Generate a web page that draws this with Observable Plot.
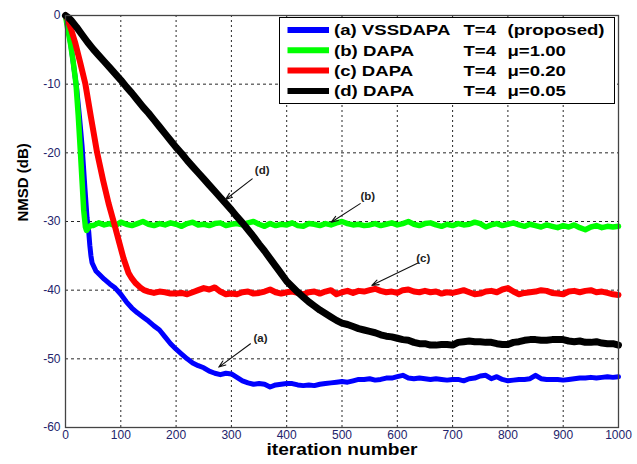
<!DOCTYPE html>
<html><head><meta charset="utf-8">
<script src="https://cdn.jsdelivr.net/npm/d3@7"></script>
<script src="https://cdn.jsdelivr.net/npm/@observablehq/plot@0.6"></script>
<style>
html,body{margin:0;padding:0;background:#fff;}
#chart{position:relative;width:637px;height:464px;}
</style></head><body><div id="chart"></div>
<script>
// ---------- data ----------
const xTicks = [0,100,200,300,400,500,600,700,800,900,1000];
const yTicks = [-60,-50,-40,-30,-20,-10,0];
const tailIter = d3.range(150, 1001, 10); // sample positions of the steady part

// (a) VSSDAPA
const aHeadIter = [0,5,10,15,20,25,30,35,39,42,44,46,48,55,60,70,80,90,100,110,120,130,140];
const aHeadNmsd = [0,-2,-4.5,-7.5,-10.5,-14.5,-19,-25,-29.5,-31.5,-33.5,-35,-36,-37.2,-37.6,-38.4,-39.1,-39.7,-40.6,-41.7,-42.6,-43.3,-43.9];
const aTailNmsd = [
 -44.5,-45.2,-45.8,-46.8,-47.8,-48.6,-49.3,-50.0,-50.6,-51.0,
 -51.3,-51.8,-52.1,-52.3,-52.1,-52.2,-52.7,-53.2,-53.5,-53.7,
 -53.6,-53.7,-54.1,-53.8,-53.7,-53.6,-53.6,-53.8,-53.9,-53.8,
 -53.9,-53.7,-53.6,-53.5,-53.4,-53.3,-53.4,-53.2,-53.0,-53.0,
 -52.9,-53.1,-53.0,-52.8,-52.8,-52.6,-52.4,-52.8,-52.9,-52.8,
 -52.9,-53.0,-52.9,-53.0,-53.1,-53.0,-53.0,-53.2,-52.9,-52.8,
 -52.5,-52.4,-52.9,-52.6,-53.0,-53.2,-53.1,-53.0,-53.0,-52.9,
 -52.4,-52.9,-53.0,-53.0,-53.0,-53.1,-53.0,-52.9,-52.8,-52.8,
 -52.7,-52.8,-52.7,-52.6,-52.7,-52.6];

// (b) DAPA mu=1.00
const bHeadIter = [0,3,9,14,19,23,27,30,33,36,38,41,45,50,60,70,80,90,100,110,120,130,140];
const bHeadNmsd = [0,-1.5,-4.1,-6.8,-10,-14.5,-19.9,-24.2,-28.4,-30.8,-31.3,-31.0,-30.6,-30.6,-30.2,-30.5,-30.3,-30.6,-30.1,-30.4,-30.6,-30.3,-30.0];
const bTailNmsd = [
 -30.4,-30.6,-30.3,-30.5,-30.2,-30.4,-30.7,-30.3,-30.1,-30.5,
 -30.4,-30.6,-30.3,-30.2,-30.6,-30.4,-30.3,-30.5,-30.2,-30.0,
 -30.4,-30.7,-30.3,-30.6,-30.4,-30.5,-30.2,-30.6,-30.7,-30.3,
 -30.4,-30.6,-30.3,-30.5,-30.2,-30.0,-30.3,-30.5,-30.4,-30.6,
 -30.5,-30.3,-30.6,-30.4,-30.2,-30.5,-30.3,-30.0,-30.4,-30.6,
 -30.3,-30.2,-30.5,-30.7,-30.4,-30.6,-30.3,-30.5,-30.4,-30.1,
 -30.3,-30.8,-30.5,-30.3,-30.6,-30.4,-30.2,-30.5,-30.7,-30.4,
 -30.6,-30.8,-30.5,-30.7,-30.9,-30.6,-30.8,-30.5,-30.9,-31.2,
 -30.8,-30.6,-30.9,-30.7,-30.8,-30.7];

// (c) DAPA mu=0.20
const cHeadIter = [0,5,10,18,27,36,46,57,68,78,88,97,105,114,120,127,135,142];
const cHeadNmsd = [0,-0.8,-2,-4.1,-7,-10,-14.8,-19.9,-24,-27.4,-30.3,-33,-35.4,-37.5,-38.3,-39,-39.6,-40];
const cTailNmsd = [
 -40.2,-40.4,-40.2,-40.3,-40.5,-40.5,-40.4,-40.6,-40.3,-40.0,
 -39.7,-39.9,-39.6,-40.2,-40.6,-40.5,-40.6,-40.3,-40.2,-40.5,
 -40.4,-40.2,-39.9,-40.3,-40.5,-40.3,-40.2,-40.4,-40.6,-40.3,
 -40.2,-40.5,-40.2,-40.0,-40.6,-40.3,-40.1,-40.4,-40.1,-40.2,
 -40.0,-39.8,-40.1,-40.3,-40.2,-40.4,-40.0,-39.9,-40.2,-40.3,
 -40.1,-40.3,-40.2,-40.5,-40.3,-40.4,-40.2,-40.0,-40.3,-40.6,
 -40.5,-40.2,-40.1,-40.3,-39.9,-39.7,-40.2,-40.6,-40.4,-40.3,
 -40.2,-40.0,-40.1,-40.4,-40.5,-40.6,-40.2,-40.1,-40.3,-40.1,
 -40.0,-40.3,-40.2,-40.4,-40.6,-40.7];

// (d) DAPA mu=0.05
const dHeadIter = [0,5,10,20,30,40,50,60,70,80,90,100,110,120,130,140];
const dHeadNmsd = [0,-0.3,-0.7,-1.7,-2.8,-3.9,-4.9,-5.8,-6.7,-7.6,-8.5,-9.4,-10.4,-11.3,-12.3,-13.3];
const dTailNmsd = [
 -14.2,-15.2,-16.2,-17.2,-18.2,-19.2,-20.1,-21.1,-22.0,-22.9,
 -23.8,-24.7,-25.6,-26.5,-27.4,-28.3,-29.3,-30.2,-31.2,-32.2,
 -33.3,-34.3,-35.4,-36.5,-37.6,-38.7,-39.5,-40.3,-41.0,-41.7,
 -42.3,-42.9,-43.4,-43.9,-44.4,-44.8,-45.0,-45.3,-45.6,-45.8,
 -46.0,-46.2,-46.5,-46.7,-46.8,-47.0,-47.2,-47.3,-47.6,-47.8,
 -47.8,-48.0,-48.0,-47.9,-47.9,-48.0,-47.6,-47.5,-47.4,-47.5,
 -47.5,-47.6,-47.6,-47.8,-47.9,-47.9,-47.6,-47.5,-47.3,-47.2,
 -47.2,-47.3,-47.3,-47.2,-47.2,-47.2,-47.4,-47.5,-47.4,-47.6,
 -47.6,-47.5,-47.7,-47.8,-47.8,-48.0];

// legend text
const legendNames = ["(a) VSSDAPA","(b) DAPA","(c) DAPA","(d) DAPA"];
const legendT = ["T=4","T=4","T=4","T=4"];
const legendParam = ["(proposed)","\u03bc=1.00","\u03bc=0.20","\u03bc=0.05"];
const seriesColors = ["#0000ff","#00ff00","#ff0000","#000000"];

// annotations
const annLabels = ["(a)","(b)","(c)","(d)"];
const annLabelIter = [352.6, 546.7, 647, 355.7];
const annLabelNmsd = [-47.0, -26.4, -35.4, -22.6];
const arrowFromIter = [334.5, 532.9, 638.3, 337.6];
const arrowFromNmsd = [-47.8, -27.4, -36.0, -23.8];
const arrowToIter = [277.2, 480.5, 554, 289.3];
const arrowToNmsd = [-51.2, -30.1, -39.3, -26.8];

// ---------- build tables ----------
function series(headIter, headNmsd, tailNmsd) {
  return headIter.map((t, i) => ({iter: t, nmsd: headNmsd[i]}))
    .concat(tailIter.map((t, i) => ({iter: t, nmsd: tailNmsd[i]})));
}
const sa = series(aHeadIter, aHeadNmsd, aTailNmsd);
const sb = series(bHeadIter, bHeadNmsd, bTailNmsd);
const sc = series(cHeadIter, cHeadNmsd, cTailNmsd);
const sd = series(dHeadIter, dHeadNmsd, dTailNmsd);
const ann = annLabels.map((label, i) => ({
  label, lx: annLabelIter[i], ly: annLabelNmsd[i],
  x1: arrowFromIter[i], y1: arrowFromNmsd[i], x2: arrowToIter[i], y2: arrowToNmsd[i]
}));

const FONT = "'Liberation Sans', Arial, Helvetica, sans-serif";
const tickColor = "#23236b";

const plot = Plot.plot({
  width: 637, height: 464,
  marginLeft: 65, marginRight: 19, marginTop: 15, marginBottom: 37,
  x: {domain: [0, 1000]},
  y: {domain: [-60, 0]},
  style: {fontFamily: FONT, background: "#fff", overflow: "visible"},
  marks: [
    Plot.gridX(xTicks, {stroke: "#000", strokeOpacity: 0.85, strokeDasharray: "2,3"}),
    Plot.gridY(yTicks, {stroke: "#000", strokeOpacity: 0.85, strokeDasharray: "3,3"}),
    Plot.line(sa, {x: "iter", y: "nmsd", stroke: seriesColors[0], strokeWidth: 5}),
    Plot.line(sb, {x: "iter", y: "nmsd", stroke: seriesColors[1], strokeWidth: 5.5}),
    Plot.line(sc, {x: "iter", y: "nmsd", stroke: seriesColors[2], strokeWidth: 6}),
    Plot.line(sd, {x: "iter", y: "nmsd", stroke: seriesColors[3], strokeWidth: 7}),
    Plot.arrow(ann, {x1: "x1", y1: "y1", x2: "x2", y2: "y2", stroke: "#111", strokeWidth: 1.1, headLength: 10, headAngle: 40}),
    Plot.text(ann, {x: "lx", y: "ly", text: "label", fontSize: 11.5, fontWeight: "bold", fill: "#222"}),
    Plot.frame({stroke: "#444", strokeWidth: 1.3}),
    Plot.axisX(xTicks, {tickSize: 0, tickPadding: 3, fontSize: 12, fill: tickColor, label: null, tickFormat: d => String(d)}),
    Plot.axisY(yTicks, {tickSize: 0, tickPadding: 5, fontSize: 12, fill: tickColor, label: null, tickFormat: d => String(d)}),
    Plot.text(["NMSD (dB)"], {text: d => d, frameAnchor: "left", dx: -42, rotate: -90, fontSize: 15, fontWeight: "bold", fill: "#000"}),
    Plot.text(["iteration number"], {text: d => d, frameAnchor: "bottom", dy: 27.5, fontSize: 16, fontWeight: "bold", fill: "#000"})
  ]
});

document.getElementById("chart").append(plot);

// stretch x title to match the wide rendering of the original figure
d3.select(plot).selectAll("text").filter(function(){ return this.textContent === "iteration number"; })
  .attr("textLength", 151).attr("lengthAdjust", "spacingAndGlyphs");

// ---------- in-plot legend ----------
const svg = d3.select(plot);
const lg = svg.append("g").attr("font-family", FONT).attr("text-anchor", "start");
lg.append("rect").attr("x", 279.5).attr("y", 17.5).attr("width", 335).attr("height", 86)
  .attr("fill", "#fff").attr("stroke", "#000").attr("stroke-width", 1);
const rowY = [30, 50.3, 70.6, 91];
legendNames.forEach((name, i) => {
  const y = rowY[i];
  lg.append("line").attr("x1", 287.5).attr("x2", 329).attr("y1", y).attr("y2", y)
    .attr("stroke", seriesColors[i]).attr("stroke-width", 6);
  [[334, name], [463.5, legendT[i]], [507.5, legendParam[i]]].forEach(([x, t]) => {
    lg.append("text").attr("transform", `translate(${x},${y}) scale(1.24,1)`)
      .attr("text-anchor", "start")
      .attr("dy", "0.36em").attr("font-size", 15).attr("font-weight", "bold")
      .attr("fill", "#000").text(t);
  });
});
</script>
</body></html>
